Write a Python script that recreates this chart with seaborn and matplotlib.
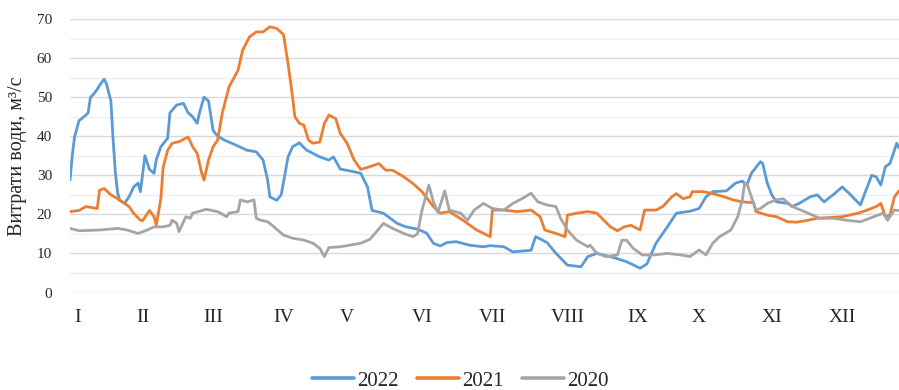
import matplotlib
matplotlib.use("Agg")
import matplotlib.pyplot as plt
from matplotlib.ticker import MultipleLocator
import pandas as pd
import seaborn as sns

# Daily water discharge (m³/s) at sampled days of the year
days_2022 = [0, 1, 2, 4, 7, 8, 9, 10, 12, 13, 15, 16, 18, 19, 20, 21, 22, 24, 26, 28,
             30, 31, 33, 35, 37, 38, 40, 43, 44, 47, 50, 52, 54, 56, 57, 59, 61, 63, 65, 68,
             72, 78, 82, 85, 87, 88, 91, 93, 96, 98, 101, 104, 110, 114, 116, 119, 125, 128, 131, 133,
             138, 144, 148, 153, 157, 160, 163, 166, 170, 176, 182, 185, 191, 195, 203, 205, 210, 214, 219, 225,
             228, 232, 239, 245, 251, 254, 258, 263, 267, 273, 277, 280, 283, 289, 293, 296, 298, 300, 304, 305,
             307, 309, 311, 316, 318, 321, 326, 329, 332, 336, 340, 343, 348, 351, 353, 355, 357, 359, 361, 362,
             364, 365]
flow_2022 = [28.8, 35.0, 39.8, 44.0, 45.4, 46.0, 50.0, 50.5, 52.0, 53.0, 54.6, 53.5, 49.0, 39.0, 30.5, 25.4, 23.5, 22.8, 24.5, 27.0,
             28.0, 25.8, 35.0, 31.5, 30.5, 34.0, 37.3, 39.5, 46.0, 48.0, 48.4, 46.0, 45.0, 43.3, 46.0, 50.0, 49.0, 41.5, 40.0, 39.0,
             38.0, 36.4, 36.0, 33.9, 28.8, 24.5, 23.6, 25.0, 34.7, 37.3, 38.3, 36.5, 34.7, 33.9, 34.7, 31.6, 30.9, 30.5, 27.0, 21.0,
             20.3, 17.7, 16.8, 16.2, 15.2, 12.6, 11.9, 12.8, 13.0, 12.1, 11.7, 12.0, 11.7, 10.4, 10.8, 14.3, 12.8, 10.0, 7.0, 6.6,
             9.2, 10.0, 9.0, 7.9, 6.2, 7.3, 12.6, 16.8, 20.3, 20.8, 21.5, 24.5, 25.8, 26.0, 28.0, 28.5, 27.5, 30.5, 33.5, 33.0,
             28.0, 25.0, 23.2, 22.8, 22.0, 22.8, 24.5, 25.0, 23.2, 25.0, 27.0, 25.4, 22.4, 27.0, 30.0, 29.6, 27.5, 32.2, 33.0, 34.7,
             38.2, 37.0]

days_2021 = [0, 4, 7, 12, 13, 15, 18, 21, 23, 26, 28, 31, 32, 35, 37, 38, 40, 41, 43, 45,
             48, 52, 54, 56, 58, 59, 61, 63, 65, 67, 70, 74, 76, 79, 82, 85, 88, 91, 94, 96,
             98, 99, 101, 103, 105, 107, 110, 112, 114, 117, 119, 122, 125, 128, 132, 136, 139, 142, 147, 151,
             155, 160, 163, 167, 173, 179, 185, 186, 191, 197, 203, 207, 209, 214, 218, 219, 223, 228, 232, 235,
             238, 241, 244, 247, 251, 253, 258, 261, 265, 267, 270, 273, 274, 279, 283, 288, 292, 296, 301, 302,
             307, 311, 316, 320, 325, 329, 335, 340, 347, 351, 355, 357, 359, 361, 363, 365]
flow_2021 = [20.7, 21.0, 22.0, 21.5, 26.2, 26.6, 25.0, 24.0, 23.2, 22.0, 20.3, 18.5, 18.4, 21.0, 19.4, 17.2, 24.0, 32.0, 36.4, 38.2,
             38.6, 39.8, 37.3, 35.6, 30.5, 28.8, 33.9, 37.3, 39.0, 45.8, 52.6, 56.9, 62.0, 65.4, 66.7, 66.7, 68.0, 67.6, 66.0, 58.6,
             50.0, 45.0, 43.3, 42.8, 39.0, 38.2, 38.5, 43.3, 45.4, 44.5, 40.7, 38.2, 34.0, 31.5, 32.2, 33.0, 31.3, 31.3, 29.6, 27.9,
             25.8, 22.0, 20.3, 20.7, 18.5, 16.0, 14.3, 21.1, 21.1, 20.7, 21.1, 19.4, 16.0, 15.1, 14.3, 19.8, 20.3, 20.7, 20.3, 18.5,
             16.8, 15.8, 16.8, 17.2, 16.0, 21.1, 21.1, 22.0, 24.5, 25.3, 24.0, 24.5, 25.8, 25.8, 25.3, 24.5, 23.7, 23.2, 23.0, 20.7,
             19.8, 19.4, 18.1, 18.0, 18.5, 19.0, 19.2, 19.4, 20.3, 21.1, 22.0, 22.8, 19.4, 19.8, 24.5, 26.0]

days_2020 = [0, 4, 13, 21, 25, 30, 34, 37, 41, 44, 45, 47, 48, 51, 53, 54, 60, 65, 69, 70,
             74, 75, 78, 81, 82, 84, 87, 89, 94, 98, 103, 107, 110, 112, 114, 119, 123, 128, 132, 135,
             138, 142, 147, 151, 153, 155, 158, 160, 162, 165, 167, 172, 175, 178, 182, 186, 191, 195, 199, 203,
             206, 210, 214, 216, 219, 223, 228, 229, 232, 236, 241, 243, 245, 248, 252, 257, 263, 269, 273, 277,
             280, 283, 286, 291, 294, 296, 297, 298, 300, 302, 304, 307, 311, 314, 318, 325, 330, 336, 342, 348,
             354, 358, 360, 363, 365]
flow_2020 = [16.4, 15.8, 16.0, 16.4, 16.0, 15.1, 16.0, 16.8, 16.8, 17.2, 18.5, 17.7, 15.6, 19.4, 19.0, 20.3, 21.3, 20.7, 19.4, 20.3,
             20.7, 23.7, 23.2, 23.7, 19.0, 18.5, 18.1, 17.2, 14.7, 13.9, 13.4, 12.6, 11.3, 9.2, 11.5, 11.7, 12.1, 12.6, 13.6, 15.6,
             17.7, 16.4, 15.1, 14.3, 15.0, 21.1, 27.5, 23.2, 20.5, 26.0, 21.1, 20.3, 18.5, 21.1, 22.8, 21.5, 21.1, 22.8, 24.0, 25.4,
             23.2, 22.4, 22.0, 19.0, 16.0, 13.4, 11.7, 12.1, 10.0, 9.2, 9.6, 13.4, 13.4, 11.3, 9.6, 9.6, 10.0, 9.6, 9.2, 10.9,
             9.6, 12.6, 14.3, 16.0, 19.4, 23.7, 27.9, 28.0, 24.5, 21.1, 21.5, 22.8, 23.7, 24.0, 22.0, 20.3, 19.0, 19.0, 18.5, 18.1,
             19.4, 20.3, 18.5, 21.1, 21.0]

years = ["2022", "2021", "2020"]
colors = ["#5B9BD5", "#ED7D31", "#A5A5A5"]
month_labels = ["I", "II", "III", "IV", "V", "VI", "VII", "VIII", "IX", "X", "XI", "XII"]
month_label_days = [3.5, 32, 63, 94, 122, 155, 186, 219, 250, 277, 309, 340]

frames = []
for year, d, q in zip(years, [days_2022, days_2021, days_2020], [flow_2022, flow_2021, flow_2020]):
    frames.append(pd.DataFrame({"day": d, "flow": q, "year": year}))
data = pd.concat(frames, ignore_index=True)

sns.set_theme(style="white")
plt.rcParams["font.family"] = ["Liberation Serif", "DejaVu Serif"]

fig = plt.figure(figsize=(8.99, 3.90), dpi=100)
ax = fig.add_axes([70 / 899, 1 - 292.5 / 390, 1 - 70 / 899, (292.5 - 19) / 390])

sns.lineplot(data=data, x="day", y="flow", hue="year", hue_order=years,
             palette=dict(zip(years, colors)), estimator=None, sort=False,
             linewidth=2.0, ax=ax, legend=False)

ax.set_xlim(0, 365)
ax.set_ylim(0, 70)
ax.set_yticks(range(0, 71, 10))
ax.yaxis.set_minor_locator(MultipleLocator(5))
ax.grid(which="major", axis="y", color="#d9d9d9", linewidth=1.0)
ax.grid(which="minor", axis="y", color="#eeeeee", linewidth=1.0)
ax.grid(which="major", axis="x", visible=False)
ax.set_axisbelow(True)

ax.set_xticks(month_label_days)
ax.set_xticklabels(month_labels)
ax.tick_params(axis="x", length=0, pad=12, labelsize=14, labelcolor="#262626")
ax.tick_params(axis="y", which="both", length=0, pad=13, labelsize=11, labelcolor="#262626")
for s in ax.spines.values():
    s.set_visible(False)

ax.set_xlabel("")
ax.set_ylabel("Витрати води, м³/с", fontsize=14.5, color="#262626")
ax.yaxis.set_label_coords(-0.052, 0.5)

handles = [plt.Line2D([], [], color=c, linewidth=2.6) for c in colors]
fig.legend(handles, years, loc="center", bbox_to_anchor=(0.512, 1 - 381 / 390),
           ncol=3, frameon=False, fontsize=15, handlelength=2.0,
           handletextpad=0.15, columnspacing=0.9, labelcolor="#262626")

fig.savefig("out.png", dpi=100)
